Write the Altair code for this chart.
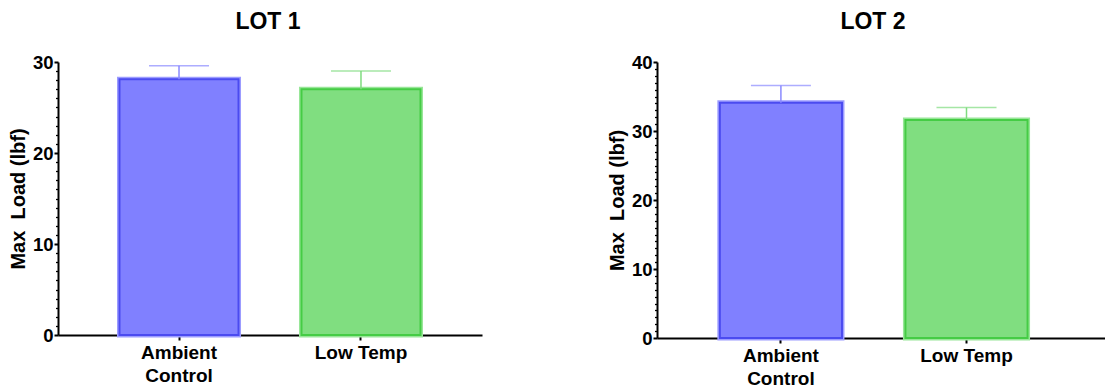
import altair as alt
import pandas as pd

categories = ["Ambient Control", "Low Temp"]
lot1_mean = [28.1, 27.0]
lot1_err = [1.5, 2.0]
lot2_mean = [34.1, 31.6]
lot2_err = [2.5, 1.8]
panel_titles = ["LOT 1", "LOT 2"]
y_title = "Max\u00a0\u00a0Load (lbf)"

FONT = "Liberation Sans"
fill_colors = ["#8080FF", "#80DE80"]
stroke_colors = ["#4B4BF0", "#45CC45"]
halo_colors = ["#9C9CFF", "#98E698"]
err_colors = ["#8A8AFF", "#7FDC7F"]


def panel(means, errs, title, ymax, width, height, p_inner, p_outer, align, title_dx):
    df = pd.DataFrame({
        "cat": categories,
        "mean": means,
        "upper": [m + e for m, e in zip(means, errs)],
    })
    xscale = alt.Scale(domain=categories, paddingInner=p_inner, paddingOuter=p_outer, align=align)
    yscale = alt.Scale(domain=[0, ymax], nice=False, zero=True)
    xaxis = alt.Axis(
        title=None,
        labelExpr="datum.label == 'Ambient Control' ? ['Ambient', 'Control'] : datum.label",
    )
    yaxis = alt.Axis(
        title=y_title, values=list(range(0, ymax + 1)),
        labelExpr="datum.value % 10 == 0 ? datum.label : ''",
        tickSize={"condition": {"test": "datum.value % 10 == 0", "value": 4}, "value": 2.5},
        tickWidth={"condition": {"test": "datum.value % 10 == 0", "value": 2}, "value": 1.3},
    )
    X = alt.X("cat:N", scale=xscale, axis=xaxis, sort=categories)
    Y = alt.Y("mean:Q", scale=yscale, axis=yaxis)
    base = alt.Chart(df)
    halo = base.mark_bar(strokeWidth=5).encode(
        x=X, y=Y,
        color=alt.Color("cat:N", scale=alt.Scale(domain=categories, range=fill_colors), legend=None),
        stroke=alt.Stroke("cat:N", scale=alt.Scale(domain=categories, range=halo_colors), legend=None),
    )
    bars = base.mark_bar(strokeWidth=2).encode(
        x=X, y=Y,
        color=alt.Color("cat:N", scale=alt.Scale(domain=categories, range=fill_colors), legend=None),
        stroke=alt.Stroke("cat:N", scale=alt.Scale(domain=categories, range=stroke_colors), legend=None),
    )
    err_color = alt.Color("cat:N", scale=alt.Scale(domain=categories, range=err_colors), legend=None)
    rule = base.mark_rule(strokeWidth=1.5).encode(
        x=X, y=Y, y2="upper:Q", color=err_color,
    )
    cap = base.mark_tick(thickness=1.5, size=60).encode(
        x=X,
        y=alt.Y("upper:Q", scale=yscale, axis=yaxis),
        color=err_color,
    )
    return alt.layer(halo, bars, rule, cap).resolve_scale(color="independent", stroke="independent").properties(
        width=width, height=height, title=alt.TitleParams(title, dx=title_dx),
    )


left = panel(lot1_mean, lot1_err, panel_titles[0], 30, 424, 273, 0.346, 0.338, 0.5, -2)
right = panel(lot2_mean, lot2_err, panel_titles[1], 40, 448, 276, 0.342, 0.378, 0.448, -8)

chart = (
    alt.hconcat(left, right, spacing=125)
    .properties(padding={"top": 3, "left": 0, "right": 0, "bottom": 0})
    .configure_view(stroke=None)
    .configure_title(font=FONT, fontSize=23, fontWeight="bold", color="black",
                     anchor="middle", offset=19)
    .configure_axisX(
        labelAngle=0, labelFont=FONT, labelFontSize=19, labelFontWeight="bold",
        labelColor="black", domainColor="black", domainWidth=2, tickColor="black",
        tickWidth=2, tickSize=5, labelPadding=3, labelLineHeight=23,
    )
    .configure_axisY(
        titleFont=FONT, titleFontSize=20, titleFontWeight="bold", titleColor="black",
        titlePadding=4, labelFont=FONT, labelFontSize=18.5, labelFontWeight="bold",
        labelColor="black", labelPadding=1, domainColor="black", domainWidth=2,
        tickColor="black", grid=False, labelOverlap=False,
    )
)

chart.save("out.html", embed_options={"renderer": "svg", "actions": False})
